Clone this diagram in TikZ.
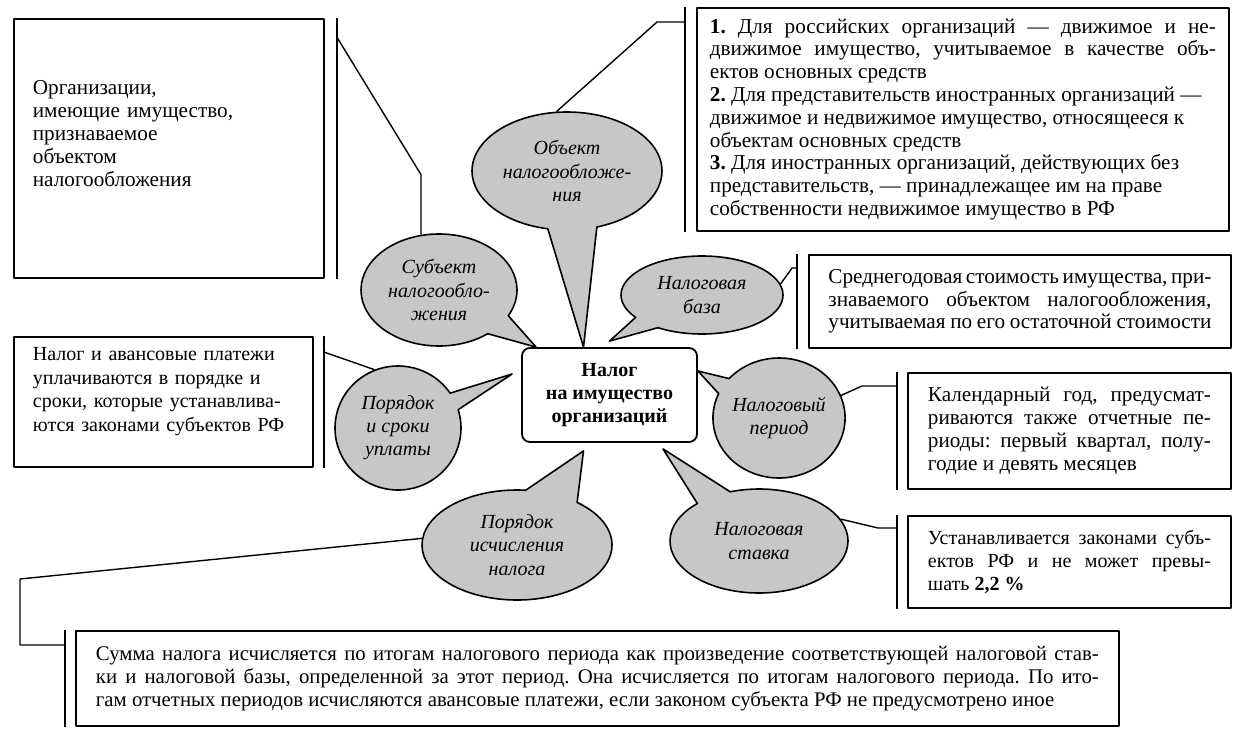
\documentclass[tikz,border=0pt]{standalone}
\usepackage{fontspec}
\setmainfont{Liberation Serif}
\usepackage{tikz}
\usetikzlibrary{positioning, shapes.callouts}
\frenchspacing

\begin{document}
\begin{tikzpicture}[x=0.5pt, y=-0.5pt, line join=round]

% Define styles
\tikzset{
  infobox/.style={
    rectangle, draw, line width=0.9pt, anchor=north west,
    inner ysep=0pt, align=justify, font=\fontsize{10.6}{11.4}\selectfont
  },
  bubble/.style={
    ellipse callout, draw, fill=black!22, line width=0.8pt,
    inner sep=0pt, align=center, font=\fontsize{10}{11.6}\selectfont\itshape
  },
  hub/.style={
    rectangle, draw, rounded corners=4pt, fill=white, line width=0.9pt,
    minimum width=87.5pt, minimum height=47pt,
    align=center, font=\fontsize{10}{11.4}\selectfont\bfseries
  },
  link/.style={line width=0.7pt},
  bar/.style={line width=0.8pt}
}

\useasboundingbox (0,0) rectangle (1235,733);

% Centre
\node (tax) [hub] at (609.5,395) {Налог\\на имущество\\организаций};

% Bubbles round the centre
\node (subj) [bubble, minimum width=78pt, minimum height=56pt, callout pointer arc=24,
  callout absolute pointer={([xshift=7.5pt]tax.north west)}] at (439,290) {Субъект\\налогообло-\\жения};
\node (obj) [bubble, minimum width=95pt, minimum height=59pt, callout pointer arc=30,
  callout absolute pointer={([xshift=-13pt]tax.north)}] at (567,171) {Объект\\налогообложе-\\ния};
\node (base) [bubble, minimum width=81pt, minimum height=39pt, callout pointer arc=22,
  callout absolute pointer={([yshift=3pt]tax.north)}] at (702,295) {Налоговая\\база};
\node (per) [bubble, minimum width=64pt, minimum height=60pt, callout pointer arc=17,
  callout absolute pointer={([yshift=12pt]tax.east)}] at (779,418) {Налоговый\\период};
\node (rate) [bubble, minimum width=89pt, minimum height=52pt, callout pointer arc=25,
  callout absolute pointer={([xshift=26.75pt,yshift=-3pt]tax.south)}] at (759,541) {Налоговая\\ставка};
\node (calc) [bubble, minimum width=95pt, minimum height=55pt, callout pointer arc=34,
  callout absolute pointer={([xshift=-13pt,yshift=-4pt]tax.south)}] at (517,545) {Порядок\\исчисления\\налога};
\node (pay) [bubble, minimum width=63pt, minimum height=62pt, callout pointer arc=17,
  callout absolute pointer={([xshift=-4.5pt,yshift=10.5pt]tax.west)}] at (398,428) {Порядок\\и сроки\\уплаты};

% Text boxes
\node (orgbox) [infobox, align=left, text width=136pt, inner xsep=9.5pt, minimum height=129.5pt] at (13,18)
  {Организации,\\имеющие имущество,\\признаваемое\\объектом\\налогообложения\\[0pt]\strut};
\node (objbox) [infobox, text width=253pt, inner xsep=6.5pt, minimum height=111.5pt] at (696,7)
  {\textbf{1.} Для российских организаций — движимое и не-\linebreak
   движимое имущество, учитываемое в качестве объ-\linebreak
   ектов основных средств\\
   \textbf{2.} Для представительств иностранных организаций —\\
   движимое и недвижимое имущество, относящееся к\\
   объектам основных средств\\
   \textbf{3.} Для иностранных организаций, действующих без\\
   представительств, — принадлежащее им на праве\\
   собственности недвижимое имущество в РФ};
\node (basebox) [infobox, text width=191.5pt, inner xsep=9.75pt, minimum height=46.5pt] at (808,254)
  {Среднегодовая стоимость имущества, при-\linebreak
   знаваемого объектом налогообложения,\linebreak
   учитываемая по его остаточной стоимости};
\node (perbox) [infobox, text width=141.5pt, inner xsep=10pt, minimum height=58pt] at (907,372)
  {Календарный год, предусмат-\linebreak
   риваются также отчетные пе-\linebreak
   риоды: первый квартал, полу-\linebreak
   годие и девять месяцев};
\node (ratebox) [infobox, text width=141.5pt, inner xsep=10pt, minimum height=46pt,
  font=\fontsize{10}{11.4}\selectfont] at (907,515)
  {Устанавливается законами субъ-\linebreak
   ектов РФ и не может превы-\linebreak
   шать \textbf{2,2~\%}};
\node (paybox) [infobox, align=left, text width=130.5pt, inner xsep=9.5pt, minimum height=65pt,
  font=\fontsize{10}{11.8}\selectfont] at (13,336)
  {Налог и авансовые платежи\\уплачиваются в порядке и\\сроки, которые устанавлива-\\ются законами субъектов РФ\\[-3pt]\strut};
\node (calcbox) [infobox, text width=501.5pt, inner xsep=10pt, minimum height=47.5pt,
  font=\fontsize{10.4}{11.4}\selectfont] at (75,630)
  {Сумма налога исчисляется по итогам налогового периода как произведение соответствующей налоговой став-\linebreak
   ки и налоговой базы, определенной за этот период. Она исчисляется по итогам налогового периода. По ито-\linebreak
   гам отчетных периодов исчисляются авансовые платежи, если законом субъекта РФ не предусмотрено иное};

% Bars beside the boxes
\draw[bar] ([xshift=6pt]orgbox.north east) -- ([xshift=6pt]orgbox.south east);
\draw[bar] ([xshift=-5.5pt]objbox.north west) -- ([xshift=-5.5pt]objbox.south west);
\draw[bar] ([xshift=-5.5pt]basebox.north west) -- ([xshift=-5.5pt]basebox.south west);
\draw[bar] ([xshift=-5pt]perbox.north west) -- ([xshift=-5pt]perbox.south west);
\draw[bar] ([xshift=-5pt]ratebox.north west) -- ([xshift=-5pt]ratebox.south west);
\draw[bar] ([xshift=5pt]paybox.north east) -- ([xshift=5pt]paybox.south east);
\draw[bar] ([xshift=-5pt]calcbox.north west) -- ([xshift=-5pt]calcbox.south west);

\coordinate (orgtap) at ([xshift=6pt,yshift=-9.5pt]orgbox.north east);
\coordinate (objtap) at ([xshift=-5.5pt,yshift=-7.5pt]objbox.north west);
\coordinate (basetap) at ([xshift=-5.5pt,yshift=-7pt]basebox.north west);
\coordinate (pertap) at ([xshift=-5pt,yshift=-7pt]perbox.north west);
\coordinate (ratetap) at ([xshift=-5pt,yshift=-6.5pt]ratebox.north west);
\coordinate (paytap) at ([xshift=5pt,yshift=-8pt]paybox.north east);
\coordinate (calctap) at ([xshift=-5pt,yshift=-7.5pt]calcbox.north west);

% Links from bubbles to bars
\draw[link] (subj.108) -- ++(0,-60) -- (orgtap);
\draw[link] (obj.100) -- ([xshift=-14pt]objtap) -- (objtap);
\draw[link] (base.8) -- ([xshift=-2.5pt]basetap) -- (basetap);
\draw[link] (per.20) -- ([xshift=-17.5pt]pertap) -- (pertap);
\draw[link] (rate.15) -- ([xshift=-9.5pt]ratetap) -- (ratetap);
\draw[link] (pay.112) -- (paytap);
\draw[link] (calc.176) -- ([xshift=-22.5pt,yshift=33pt]calctap) |- (calctap);

\end{tikzpicture}
\end{document}
